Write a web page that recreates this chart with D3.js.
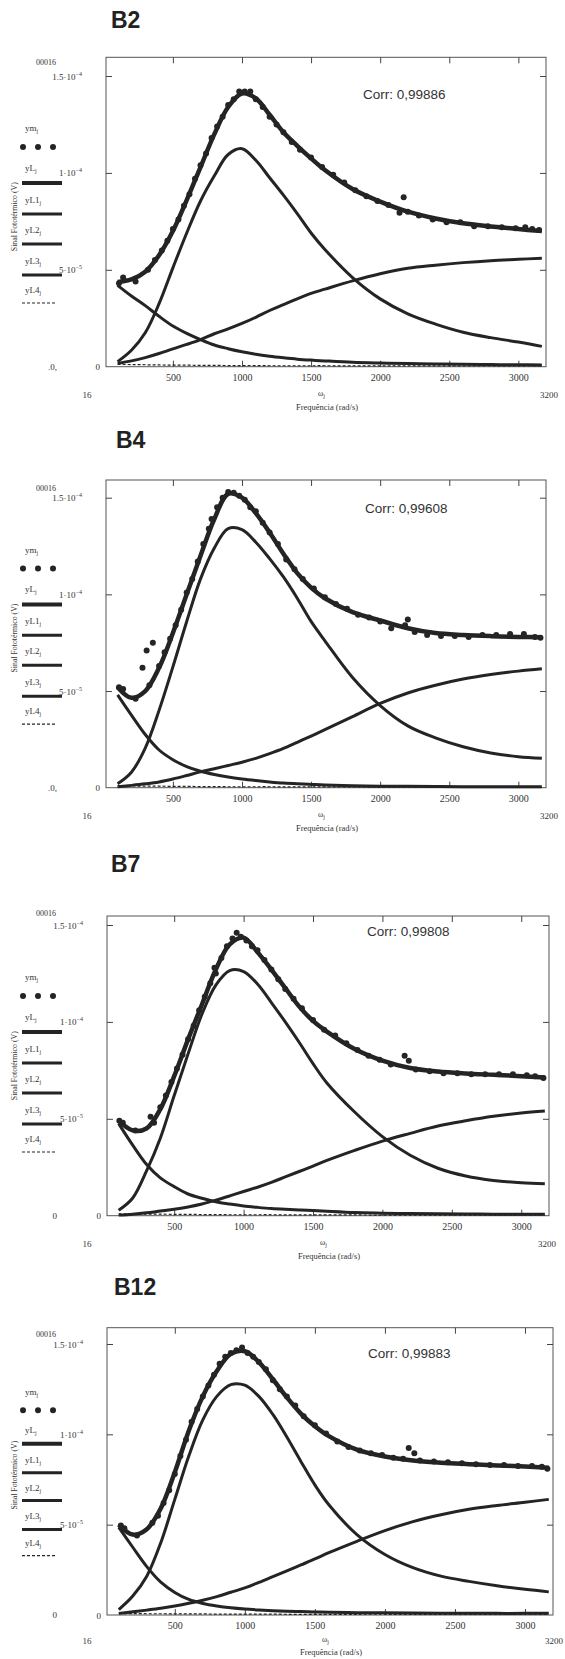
<!DOCTYPE html>
<html lang="pt">
<head>
<meta charset="UTF-8">
<title>Sinal fototérmico - B2, B4, B7, B12</title>
<script src="https://cdnjs.cloudflare.com/ajax/libs/d3/7.8.5/d3.min.js"></script>
<style>
  body { margin: 0; background: #fff; }
  svg { display: block; }
  .serif { font-family: "Liberation Serif", "DejaVu Serif", serif; fill: #333; }
  .tick text { font-family: "Liberation Serif", "DejaVu Serif", serif; font-size: 10px; fill: #333; }
  .tick line { stroke: #444; }
  .title { font-family: "Liberation Sans", Arial, sans-serif; font-weight: bold; font-size: 23px; fill: #222; }
  .corr { font-family: "Liberation Sans", Arial, sans-serif; font-size: 13.5px; fill: #333; }
</style>
</head>
<body>
<svg id="chart" width="565" height="1659"></svg>
<script>
// frequency grid of the fitted curves (rad/s)
const omega = [100, 200, 300, 400, 500, 600, 700, 800, 900, 1000, 1100, 1200, 1300, 1400, 1500, 1600, 1800, 2000, 2200, 2400, 2600, 2800, 3000, 3170];

// all signal values below are in units of 1e-5 V
const b2YL  = [4.37, 4.5, 4.9, 5.75, 7.0, 8.6, 10.3, 12.0, 13.4, 14.1, 13.85, 13.0, 12.1, 11.4, 10.75, 10.15, 9.17, 8.52, 8.0, 7.65, 7.4, 7.24, 7.1, 7.0];
const b2YL1 = [0.26, 0.85, 1.75, 3.25, 5.1, 6.9, 8.55, 9.85, 10.95, 11.25, 10.65, 9.75, 8.85, 7.9, 6.9, 6.05, 4.6, 3.5, 2.73, 2.2, 1.78, 1.5, 1.27, 1.05];
const b2YL2 = [0.17, 0.3, 0.47, 0.68, 0.92, 1.15, 1.4, 1.7, 1.95, 2.23, 2.55, 2.9, 3.2, 3.5, 3.78, 4.0, 4.43, 4.8, 5.08, 5.24, 5.37, 5.47, 5.54, 5.6];
const b2YL3 = [4.2, 3.65, 3.15, 2.6, 2.1, 1.72, 1.4, 1.12, 0.93, 0.77, 0.64, 0.54, 0.46, 0.39, 0.34, 0.3, 0.23, 0.19, 0.16, 0.14, 0.12, 0.11, 0.1, 0.09];
const b2YL4 = [0.12, 0.11, 0.1, 0.09, 0.08, 0.08, 0.07, 0.07, 0.06, 0.06, 0.06, 0.05, 0.05, 0.05, 0.05, 0.05, 0.04, 0.04, 0.04, 0.04, 0.04, 0.04, 0.04, 0.04];
const b2Ym = [[110, 4.3], [140, 4.6], [230, 4.4], [320, 5.0], [370, 5.5], [420, 6.0], [460, 6.5], [500, 7.1], [540, 7.6], [580, 8.3], [620, 8.9], [660, 9.7], [700, 10.4], [740, 11.0], [780, 11.8], [820, 12.4], [860, 12.9], [900, 13.5], [940, 13.8], [980, 14.2], [1020, 14.2], [1060, 14.2], [1100, 13.8], [1150, 13.4], [1200, 12.9], [1250, 12.5], [1300, 12.1], [1360, 11.6], [1420, 11.2], [1500, 10.8], [1580, 10.3], [1660, 9.9], [1740, 9.5], [1820, 9.1], [1900, 8.8], [1980, 8.55], [2060, 8.35], [2140, 7.95], [2170, 8.75], [2200, 8.0], [2280, 7.8], [2380, 7.6], [2480, 7.45], [2580, 7.45], [2680, 7.25], [2780, 7.25], [2880, 7.2], [2980, 7.15], [3050, 7.2], [3100, 7.1], [3150, 7.05]];

const b4YL  = [5.2, 4.65, 5.0, 6.2, 8.0, 10.0, 12.0, 13.9, 15.2, 15.0, 14.2, 13.2, 12.1, 11.1, 10.35, 9.8, 9.08, 8.65, 8.25, 8.0, 7.9, 7.84, 7.8, 7.78];
const b4YL1 = [0.2, 0.8, 2.05, 4.0, 6.25, 8.6, 10.8, 12.4, 13.4, 13.35, 12.7, 11.85, 10.9, 9.8, 8.6, 7.6, 5.7, 4.25, 3.2, 2.58, 2.12, 1.8, 1.6, 1.52];
const b4YL2 = [0.05, 0.12, 0.2, 0.3, 0.45, 0.63, 0.82, 0.98, 1.15, 1.32, 1.52, 1.76, 2.03, 2.35, 2.67, 3.0, 3.68, 4.36, 4.9, 5.3, 5.62, 5.85, 6.03, 6.15];
const b4YL3 = [4.8, 3.75, 2.75, 1.95, 1.45, 1.09, 0.85, 0.68, 0.55, 0.45, 0.37, 0.3, 0.24, 0.2, 0.17, 0.14, 0.1, 0.08, 0.07, 0.06, 0.05, 0.05, 0.05, 0.05];
const b4YL4 = [0.1, 0.09, 0.08, 0.08, 0.07, 0.07, 0.06, 0.06, 0.05, 0.05, 0.05, 0.05, 0.04, 0.04, 0.04, 0.04, 0.04, 0.03, 0.03, 0.03, 0.03, 0.03, 0.03, 0.03];
const b4Ym = [[110, 5.2], [140, 5.1], [230, 4.6], [280, 6.2], [310, 7.1], [355, 7.5], [330, 5.3], [400, 6.3], [440, 7.0], [480, 7.7], [520, 8.4], [560, 9.2], [600, 10.1], [640, 10.8], [680, 11.7], [720, 12.6], [760, 13.4], [780, 13.9], [820, 14.5], [860, 15.0], [900, 15.3], [940, 15.25], [980, 15.1], [1020, 14.9], [1060, 14.5], [1100, 14.3], [1150, 13.7], [1200, 13.2], [1260, 12.6], [1320, 11.8], [1380, 11.3], [1440, 10.8], [1520, 10.3], [1600, 9.85], [1680, 9.5], [1760, 9.25], [1840, 8.95], [1920, 8.8], [2000, 8.6], [2080, 8.25], [2180, 8.4], [2200, 8.7], [2250, 8.05], [2340, 7.9], [2440, 7.85], [2540, 7.85], [2640, 7.8], [2740, 7.9], [2840, 7.9], [2940, 7.95], [3040, 7.95], [3120, 7.8], [3160, 7.75]];

const b7YL  = [4.9, 4.4, 4.5, 5.5, 7.2, 9.1, 10.9, 12.7, 14.0, 14.35, 13.6, 12.7, 11.75, 10.8, 10.05, 9.5, 8.6, 8.0, 7.62, 7.44, 7.34, 7.27, 7.2, 7.13];
const b7YL1 = [0.28, 0.9, 2.3, 4.0, 6.2, 8.35, 10.4, 11.9, 12.65, 12.6, 11.95, 11.0, 10.0, 8.95, 7.85, 6.85, 5.35, 4.08, 3.12, 2.45, 2.05, 1.82, 1.7, 1.65];
const b7YL2 = [0.03, 0.08, 0.15, 0.24, 0.33, 0.45, 0.6, 0.8, 1.02, 1.25, 1.47, 1.72, 2.0, 2.28, 2.56, 2.85, 3.37, 3.85, 4.25, 4.63, 4.9, 5.13, 5.3, 5.4];
const b7YL3 = [4.75, 3.65, 2.65, 1.95, 1.5, 1.12, 0.9, 0.72, 0.6, 0.5, 0.43, 0.37, 0.33, 0.3, 0.27, 0.23, 0.16, 0.13, 0.11, 0.1, 0.09, 0.08, 0.08, 0.08];
const b7YL4 = [0.1, 0.09, 0.08, 0.08, 0.07, 0.07, 0.06, 0.06, 0.05, 0.05, 0.05, 0.05, 0.04, 0.04, 0.04, 0.04, 0.04, 0.03, 0.03, 0.03, 0.03, 0.03, 0.03, 0.03];
const b7Ym = [[105, 4.9], [130, 4.8], [220, 4.4], [330, 5.1], [355, 4.8], [400, 5.6], [440, 6.2], [480, 6.9], [520, 7.6], [560, 8.3], [600, 9.1], [640, 9.8], [680, 10.6], [720, 11.3], [760, 12.0], [790, 12.8], [800, 12.5], [840, 13.3], [880, 13.9], [920, 14.3], [950, 14.6], [980, 14.4], [1020, 14.2], [1060, 13.9], [1100, 13.7], [1150, 13.2], [1200, 12.7], [1250, 12.2], [1300, 11.7], [1360, 11.2], [1420, 10.7], [1500, 10.1], [1580, 9.6], [1660, 9.3], [1740, 8.9], [1820, 8.55], [1900, 8.25], [1980, 8.05], [2060, 7.8], [2160, 8.25], [2190, 8.0], [2240, 7.55], [2340, 7.45], [2440, 7.35], [2540, 7.35], [2640, 7.3], [2740, 7.3], [2840, 7.3], [2940, 7.3], [3040, 7.25], [3100, 7.2], [3160, 7.1]];

const b12YL  = [5.0, 4.45, 4.75, 5.9, 7.9, 10.2, 12.1, 13.5, 14.45, 14.6, 14.0, 13.05, 12.05, 11.15, 10.45, 9.9, 9.15, 8.77, 8.55, 8.43, 8.35, 8.28, 8.22, 8.15];
const b12YL1 = [0.3, 1.05, 2.15, 4.0, 6.4, 8.8, 10.8, 12.1, 12.75, 12.72, 12.1, 11.1, 9.85, 8.5, 7.2, 6.1, 4.45, 3.35, 2.62, 2.15, 1.86, 1.62, 1.42, 1.28];
const b12YL2 = [0.09, 0.18, 0.27, 0.37, 0.5, 0.65, 0.82, 1.02, 1.26, 1.5, 1.8, 2.12, 2.44, 2.77, 3.1, 3.45, 4.08, 4.67, 5.17, 5.55, 5.85, 6.06, 6.24, 6.4];
const b12YL3 = [4.85, 3.75, 2.68, 1.82, 1.25, 0.86, 0.64, 0.5, 0.4, 0.33, 0.28, 0.24, 0.21, 0.19, 0.17, 0.15, 0.13, 0.12, 0.11, 0.1, 0.1, 0.09, 0.09, 0.09];
const b12YL4 = [0.08, 0.08, 0.07, 0.07, 0.06, 0.06, 0.06, 0.05, 0.05, 0.05, 0.05, 0.05, 0.04, 0.04, 0.04, 0.04, 0.04, 0.04, 0.03, 0.03, 0.03, 0.03, 0.03, 0.03];
const b12Ym = [[115, 4.95], [140, 4.8], [230, 4.4], [340, 5.1], [380, 5.5], [420, 6.2], [460, 6.9], [500, 7.8], [540, 8.8], [580, 9.7], [620, 10.7], [660, 11.4], [700, 12.1], [740, 12.7], [780, 13.3], [820, 13.9], [860, 14.3], [900, 14.5], [940, 14.65], [980, 14.8], [1020, 14.5], [1060, 14.3], [1100, 14.0], [1150, 13.6], [1200, 13.0], [1250, 12.5], [1300, 12.1], [1360, 11.6], [1420, 11.0], [1500, 10.5], [1580, 10.05], [1660, 9.6], [1740, 9.3], [1820, 9.1], [1900, 8.95], [1980, 8.85], [2060, 8.7], [2130, 8.65], [2170, 9.25], [2210, 8.95], [2250, 8.55], [2350, 8.5], [2450, 8.45], [2550, 8.4], [2650, 8.35], [2750, 8.3], [2850, 8.3], [2950, 8.25], [3050, 8.25], [3120, 8.2], [3160, 8.1]];

const sampleNames = ["B2", "B4", "B7", "B12"];
const corrLabels = ["Corr: 0,99886", "Corr: 0,99608", "Corr: 0,99808", "Corr: 0,99883"];
const lowLabels = [".0,", ".0,", "0", "0"];
const xTicks = [500, 1000, 1500, 2000, 2500, 3000];
const yTicks = [0, 5e-5, 1e-4, 1.5e-4];
const yTickLabels = [["0", ""], ["5·10", "−5"], ["1·10", "−4"], ["1.5·10", "−4"]];
const legendNames = ["ym", "yL", "yL1", "yL2", "yL3", "yL4"];

const samples = [
  { ym: b2Ym, fit: b2YL, parts: [b2YL1, b2YL2, b2YL3], dashed: b2YL4 },
  { ym: b4Ym, fit: b4YL, parts: [b4YL1, b4YL2, b4YL3], dashed: b4YL4 },
  { ym: b7Ym, fit: b7YL, parts: [b7YL1, b7YL2, b7YL3], dashed: b7YL4 },
  { ym: b12Ym, fit: b12YL, parts: [b12YL1, b12YL2, b12YL3], dashed: b12YL4 }
];

// where each scanned panel sits on the page
const layout = [
  { top: 57.3, y0: 366.7, y15: 76, left: 106, right: 546, titleX: 111, titleY: 28, corrX: 363, corrY: 98.5, maxY: 62, endX: 540 },
  { top: 480, y0: 787.7, y15: 497.7, left: 106, right: 546, titleX: 116, titleY: 448, corrX: 365, corrY: 512.5, maxY: 488, endX: 540 },
  { top: 916, y0: 1215.7, y15: 925, left: 107, right: 549, titleX: 111, titleY: 872, corrX: 367, corrY: 936, maxY: 913, endX: 538 },
  { top: 1327.7, y0: 1615, y15: 1344, left: 107, right: 553, titleX: 114, titleY: 1295, corrX: 368, corrY: 1357.5, maxY: 1334, endX: 545 }
];

const svg = d3.select("#chart");
const ink = "#242424";

samples.forEach((s, i) => {
  const L = layout[i];
  const k = (L.y0 - L.y15) / 290.7;
  const x = d3.scaleLinear().domain([16, 3200]).range([L.left, L.right]);
  const y = d3.scaleLinear().domain([0, 1.5e-4]).range([L.y0, L.y15]);
  const g = svg.append("g");

  g.append("text").attr("class", "title").attr("x", L.titleX).attr("y", L.titleY).text(sampleNames[i]);

  // frame
  g.append("rect")
    .attr("x", L.left).attr("y", L.top)
    .attr("width", L.right - L.left).attr("height", L.y0 - L.top)
    .attr("fill", "none").attr("stroke", "#555").attr("stroke-width", 1);

  // inward ticks on all four sides
  g.append("g").attr("transform", `translate(0,${L.y0})`)
    .call(d3.axisBottom(x).tickValues(xTicks).tickSize(-6).tickPadding(7).tickFormat(d3.format("d")))
    .call(a => a.select(".domain").remove());
  g.append("g").attr("transform", `translate(0,${L.top})`)
    .call(d3.axisTop(x).tickValues(xTicks).tickSize(-6).tickFormat(""))
    .call(a => a.select(".domain").remove());
  g.append("g").attr("transform", `translate(${L.left},0)`)
    .call(d3.axisLeft(y).tickValues(yTicks.slice(1)).tickSize(-6).tickFormat(""))
    .call(a => a.select(".domain").remove());
  g.append("g").attr("transform", `translate(${L.right},0)`)
    .call(d3.axisRight(y).tickValues(yTicks.slice(1)).tickSize(-6).tickFormat(""))
    .call(a => a.select(".domain").remove());

  // y tick labels, Mathcad style with exponent
  yTicks.forEach((v, j) => {
    const t = g.append("text").attr("class", "serif")
      .attr("x", v === 0 ? L.left - 6 : L.left - 24)
      .attr("y", y(v) + 3.5)
      .attr("text-anchor", "end")
      .style("font-size", "9px");
    t.append("tspan").text(yTickLabels[j][0]);
    if (yTickLabels[j][1]) {
      t.append("tspan").attr("dy", -4).style("font-size", "6px").text(yTickLabels[j][1]);
    }
  });

  // axis limit read-outs
  g.append("text").attr("class", "serif").attr("x", 36).attr("y", L.maxY + 3)
    .style("font-size", "8px").text("00016");
  g.append("text").attr("class", "serif").attr("x", 57).attr("y", L.y0 + 3)
    .attr("text-anchor", "end").style("font-size", "9px").text(lowLabels[i]);
  g.append("text").attr("class", "serif").attr("x", 87).attr("y", L.y0 + 31 * k)
    .attr("text-anchor", "middle").style("font-size", "9px").text("16");
  g.append("text").attr("class", "serif").attr("x", L.endX).attr("y", L.y0 + 31 * k)
    .style("font-size", "9px").text("3200");

  // x axis title
  const cx = (L.left + L.right) / 2;
  const om = g.append("text").attr("class", "serif").attr("x", cx - 8).attr("y", L.y0 + 29 * k)
    .style("font-size", "8px");
  om.append("tspan").text("ω");
  om.append("tspan").attr("dy", 2).style("font-size", "6px").text("j");
  g.append("text").attr("class", "serif").attr("x", cx + 1).attr("y", L.y0 + 43 * k)
    .attr("text-anchor", "middle").style("font-size", "8.5px").text("Frequência  (rad/s)");

  // y axis title
  g.append("text").attr("class", "serif")
    .attr("transform", `translate(17,${L.y0 - 150 * k}) rotate(-90)`)
    .attr("text-anchor", "middle").style("font-size", "7.8px")
    .text("Sinal Fototérmico (V)");

  // legend
  const rowText = [-238.7, -198.7, -166.7, -136.7, -105.7, -76.7];
  const rowMark = [-219.7, -183.7, -152.7, -122.7, -91.7, -63.7];
  legendNames.forEach((n, j) => {
    const t = g.append("text").attr("class", "serif")
      .attr("x", 25).attr("y", L.y0 + rowText[j] * k + 3)
      .style("font-size", "9px");
    t.append("tspan").text(n);
    t.append("tspan").attr("dy", 2).style("font-size", "6px").text("j");
    const my = L.y0 + rowMark[j] * k;
    if (j === 0) {
      [23, 38, 53].forEach(cxp => g.append("circle").attr("cx", cxp).attr("cy", my).attr("r", 3).attr("fill", ink));
    } else {
      g.append("line").attr("x1", 22).attr("x2", j === 5 ? 55 : 62).attr("y1", my).attr("y2", my)
        .attr("stroke", ink)
        .attr("stroke-width", j === 1 ? 4 : j === 5 ? 1.2 : 3)
        .attr("stroke-dasharray", j === 5 ? "3,2" : null);
    }
  });

  // curves
  const line = d3.line()
    .x((d, j) => x(omega[j]))
    .y(d => y(d * 1e-5))
    .curve(d3.curveCatmullRom.alpha(0.5));

  g.append("path").datum(s.dashed).attr("d", line)
    .attr("fill", "none").attr("stroke", ink).attr("stroke-width", 1.2).attr("stroke-dasharray", "3,2");
  s.parts.forEach(p => {
    g.append("path").datum(p).attr("d", line)
      .attr("fill", "none").attr("stroke", ink).attr("stroke-width", 3);
  });
  g.append("path").datum(s.fit).attr("d", line)
    .attr("fill", "none").attr("stroke", ink).attr("stroke-width", 4.5);

  g.selectAll("circle.pt").data(s.ym).enter().append("circle")
    .attr("class", "pt")
    .attr("cx", d => x(d[0])).attr("cy", d => y(d[1] * 1e-5))
    .attr("r", 3).attr("fill", ink);

  g.append("text").attr("class", "corr").attr("x", L.corrX).attr("y", L.corrY).text(corrLabels[i]);
});
</script>
</body>
</html>
